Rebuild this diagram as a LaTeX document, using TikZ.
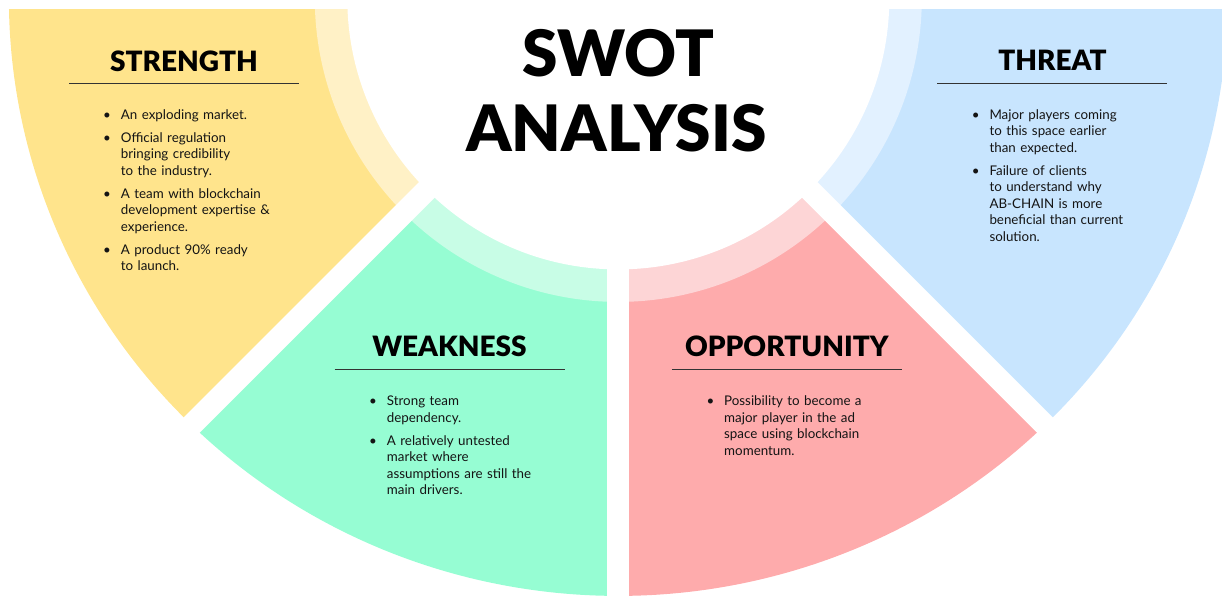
\documentclass[tikz,border=0pt]{standalone}
\usepackage{fontspec}
\setmainfont{Lato}
\newfontfamily\blackfont{Lato Black}
\definecolor{ymain}{HTML}{FFE48C}
\definecolor{ylight}{HTML}{FFF1C6}
\definecolor{gmain}{HTML}{96FDD3}
\definecolor{glight}{HTML}{C8FDE6}
\definecolor{pmain}{HTML}{FEABAC}
\definecolor{plight}{HTML}{FDD5D6}
\definecolor{bmain}{HTML}{C8E5FE}
\definecolor{blight}{HTML}{E2F1FF}
\definecolor{textc}{HTML}{141414}
\definecolor{rulec}{HTML}{333333}
\newcommand\bitem[1]{\noindent\strut\llap{\makebox[0pt][c]{\textbullet}\hspace{13.8pt}}#1\par}
\newcommand\igap{\vspace{6.5pt}}
\begin{document}
\begin{tikzpicture}[x=1pt,y=-1pt,
  bigtitle/.style={font=\blackfont\fontsize{64}{64}\selectfont, anchor=base, inner sep=0pt, text=black},
  sectitle/.style={font=\blackfont\fontsize{28}{28}\selectfont, anchor=base, inner sep=0pt, text=black},
  body/.style={font=\fontsize{13.35}{16.5}\selectfont, anchor=north west, inner sep=0pt, text width=240pt, align=left, text=textc},
  secrule/.style={draw=rulec, line width=1pt},
  gapline/.style={draw=white, line width=22pt}]
\useasboundingbox (0,0) rectangle (1222,597);
\coordinate (C) at (618.3,-1.6);
\begin{scope}
  \clip (0,9) rectangle (1222,597);
  % main sectors
  \fill[bmain] (C) -- ++(-10:609.4 and 597.5) arc[start angle=-10, end angle=45, x radius=609.4, y radius=597.5] -- cycle;
  \fill[pmain] (C) -- ++(45:609.4 and 597.5) arc[start angle=45, end angle=90, x radius=609.4, y radius=597.5] -- cycle;
  \fill[gmain] (C) -- ++(90:609.4 and 597.5) arc[start angle=90, end angle=135, x radius=609.4, y radius=597.5] -- cycle;
  \fill[ymain] (C) -- ++(135:609.4 and 597.5) arc[start angle=135, end angle=190, x radius=609.4, y radius=597.5] -- cycle;
  % light bands
  \fill[blight] (C) -- ++(-10:303.5) arc[start angle=-10, end angle=45, radius=303.5] -- cycle;
  \fill[plight] (C) -- ++(45:303.5) arc[start angle=45, end angle=90, radius=303.5] -- cycle;
  \fill[glight] (C) -- ++(90:303.5) arc[start angle=90, end angle=135, radius=303.5] -- cycle;
  \fill[ylight] (C) -- ++(135:303.5) arc[start angle=135, end angle=190, radius=303.5] -- cycle;
  % inner white disk
  \fill[white] (C) circle[radius=271];
  % gaps
  \draw[gapline] (C) -- ++(45:700);
  \draw[gapline] (C) -- ++(90:700);
  \draw[gapline] (C) -- ++(135:700);
\end{scope}
% main title
\node[bigtitle] (t1) at (618.3,76) {SWOT};
\node[bigtitle] (t2) at (616.5,151.7) {ANALYSIS};
% section titles
\node[sectitle] (tS) at (184,71) {STRENGTH};
\node[sectitle] (tW) at (449.5,356) {WEAKNESS};
\node[sectitle] (tO) at (786.8,356) {OPPORTUNITY};
\node[sectitle] (tT) at (1052.4,70.8) {THREAT};
% rules
\draw[secrule] (tS.base) ++(-115,12.3) -- ++(230,0);
\draw[secrule] (tW.base) ++(-115,13.3) -- ++(230,0);
\draw[secrule] (tO.base) ++(-115,13.3) -- ++(230,0);
\draw[secrule] (tT.base) ++(-115,12.5) -- ++(230,0);
% bodies
\node[body] (bS) at (120.7,107.4) {\bitem{An exploding market.}\igap
\bitem{Official regulation\\bringing credibility\\to the industry.}\igap
\bitem{A team with blockchain\\development expertise \&\\experience.}\igap
\bitem{A product 90\% ready\\to launch.}};
\node[body] (bW) at (386.7,393.9) {\bitem{Strong team\\dependency.}\igap
\bitem{A relatively untested\\market where\\assumptions are still the\\main drivers.}};
\node[body] (bO) at (724,393.9) {\bitem{Possibility to become a\\major player in the ad\\space using blockchain\\momentum.}};
\node[body] (bT) at (989.3,107.7) {\bitem{Major players coming\\to this space earlier\\than expected.}\igap
\bitem{Failure of clients\\to understand why\\AB-CHAIN is more\\beneficial than current\\solution.}};
\end{tikzpicture}
\end{document}
